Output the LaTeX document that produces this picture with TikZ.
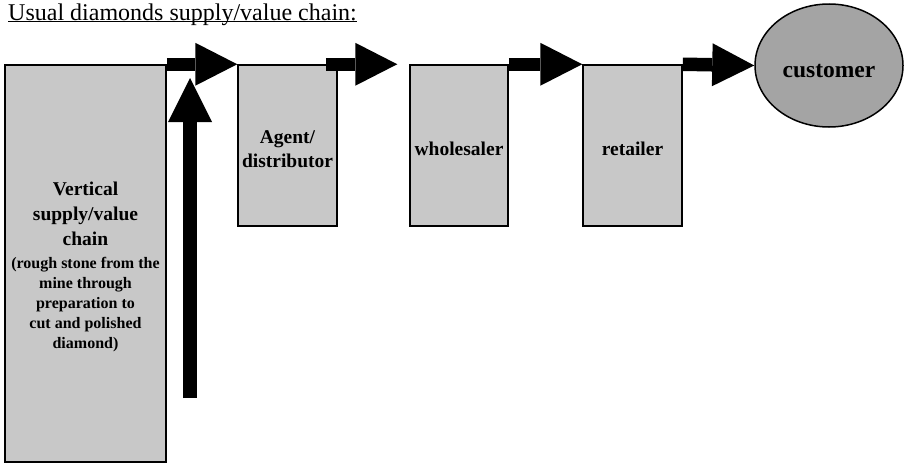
\documentclass[tikz,border=0pt]{standalone}
\usepackage{fontspec}
\setmainfont{Liberation Serif}
\usetikzlibrary{arrows.meta,shapes.geometric}
\definecolor{boxgray}{HTML}{C8C8C8}
\definecolor{ellgray}{HTML}{A4A4A4}
\tikzset{
  chainbox/.style={draw=black, line width=1.5pt, fill=boxgray, inner sep=0pt},
  lbl/.style={font=\fontsize{19.5}{24}\selectfont\bfseries, align=center, inner sep=0pt},
  blockarrow/.style={line width=13.5pt, -{Triangle[length=42pt,width=43pt,line width=0pt]}},
  uparrow/.style={line width=14pt, -{Triangle[length=44pt,width=44pt,line width=0pt]}}
}
\begin{document}
\begin{tikzpicture}[x=1pt,y=-1pt]
\useasboundingbox (0,0) rectangle (904,463);
\clip (0,0) rectangle (904,463);
% title
\node[anchor=base west, inner sep=0pt, font=\fontsize{24}{29}\selectfont] (title) at (8,20) {Usual diamonds supply/value chain:};
\draw[line width=1.3pt] ([yshift=-1.8pt]title.base west) -- ([yshift=-1.8pt]title.base east);
% boxes
\node[chainbox, minimum width=161pt, minimum height=397pt] (vert) at (85.5,263.5) {};
\node[chainbox, minimum width=99pt, minimum height=161pt] (agent) at (287.5,145.5) {};
\node[chainbox, minimum width=98pt, minimum height=161pt] (whole) at (459,145.5) {};
\node[chainbox, minimum width=99pt, minimum height=161pt] (retail) at (632.5,145.5) {};
\node[ellipse, draw=black, line width=1.5pt, fill=ellgray, minimum width=148pt, minimum height=123pt, inner sep=0pt,
      text height=23pt, text depth=0pt,
      font=\fontsize{23.5}{28}\selectfont\bfseries] (cust) at (829,65.5) {customer};
% labels
\node[lbl, font=\fontsize{19.5}{25}\selectfont\bfseries] (vertlbl) at ([yshift=-3pt]vert.center)
  {Vertical\\supply/value\\chain\\[-2pt]
   {\fontsize{16}{20}\selectfont (rough stone from the}\\[-5pt]
   {\fontsize{16}{20}\selectfont mine through}\\[-5pt]
   {\fontsize{16}{20}\selectfont preparation to}\\[-5pt]
   {\fontsize{16}{20}\selectfont cut and polished}\\[-5pt]
   {\fontsize{16}{20}\selectfont diamond)}};
\node[lbl] (agentlbl) at ([yshift=-4pt]agent.center) {Agent/\\distributor};
\node[lbl] (wholelbl) at ([yshift=-3pt]whole.center) {wholesaler};
\node[lbl] (retaillbl) at ([yshift=-3pt]retail.center) {retailer};
% connectors
\draw[blockarrow] (vert.north east) -- (agent.north west);
\draw[blockarrow] ([xshift=-12pt]agent.north east) -- ([xshift=-12pt]whole.north west);
\draw[blockarrow] (whole.north east) -- (retail.north west);
\draw[blockarrow] (retail.north east) -- (cust.west);
\coordinate (upstart) at (190,398);
\coordinate (upend) at (190,78);
\draw[uparrow] (upstart) -- (upend);
\end{tikzpicture}
\end{document}
